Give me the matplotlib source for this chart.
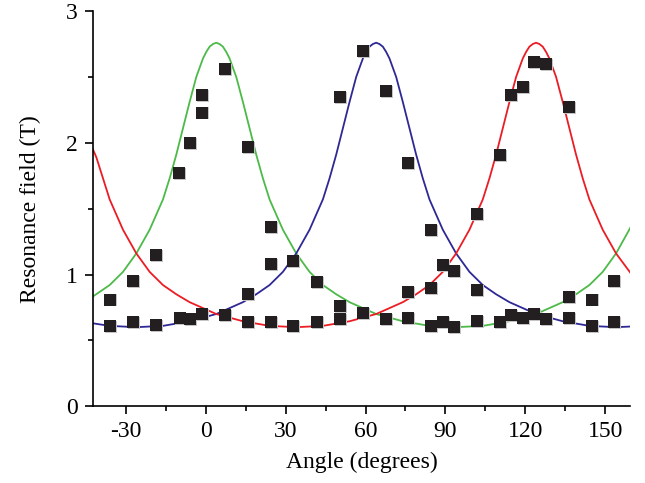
import numpy as np
import matplotlib.pyplot as plt
import matplotlib.transforms as mtransforms
from matplotlib.ticker import MultipleLocator

# Measured resonance fields (black squares)
angle = [-35.7, -35.7, -27.2, -27.2, -18.7, -18.7, -10.0, -9.6, -5.7, -5.9,
         -1.3, -1.3, -1.5, 7.2, 7.2, 16.0, 16.0, 16.0, 24.4, 24.4,
         24.4, 32.9, 32.9, 41.7, 41.7, 50.4, 50.4, 50.4, 58.9, 58.9,
         67.6, 67.6, 76.0, 76.1, 76.1, 84.6, 84.6, 84.6, 89.0, 89.0,
         93.2, 93.2, 102.0, 102.0, 102.0, 110.5, 110.5, 114.7, 114.7, 119.0,
         119.0, 123.4, 123.4, 127.7, 127.7, 136.3, 136.3, 136.3, 144.9, 144.9,
         153.3, 153.3]
field = [0.81, 0.61, 0.95, 0.64, 1.15, 0.62, 1.77, 0.67, 2.00, 0.66,
         2.36, 2.23, 0.70, 2.56, 0.69, 1.97, 0.85, 0.64, 1.36, 1.08,
         0.64, 1.10, 0.61, 0.94, 0.64, 2.35, 0.76, 0.66, 2.70, 0.71,
         2.39, 0.66, 1.85, 0.87, 0.67, 1.34, 0.90, 0.61, 1.07, 0.64,
         1.03, 0.60, 1.46, 0.88, 0.65, 1.91, 0.64, 2.36, 0.69, 2.42,
         0.67, 2.61, 0.70, 2.60, 0.66, 2.27, 0.83, 0.67, 0.81, 0.61,
         0.95, 0.64]

# Fitted curves
green_x = [-42.5, -36, -31, -26, -21, -16, -13.5, -11, -8.5, -6, -3.5, -1, 0.25, 1.5, 2.75, 4,
           5.25, 6.5, 7.75, 9, 11.5, 14, 16.5, 19, 21.5, 24, 29, 34, 39, 44, 49, 54, 59, 64, 74,
           84, 94, 104, 114, 124, 129, 134, 139, 144, 149, 154, 159.5]
green_y = [0.83, 0.92, 1.02, 1.16, 1.34, 1.57, 1.73, 1.91, 2.11, 2.31, 2.50, 2.64, 2.69, 2.73, 2.75, 2.76,
           2.75, 2.73, 2.69, 2.64, 2.50, 2.31, 2.11, 1.91, 1.73, 1.57, 1.34, 1.16, 1.02, 0.92, 0.85, 0.79, 0.745, 0.70, 0.645,
           0.61, 0.60, 0.61, 0.645, 0.70, 0.745, 0.79, 0.85, 0.92, 1.02, 1.16, 1.36]

blue_x = [-42.5, -36, -26, -16, -6, 4, 9, 14, 19, 24, 29, 34, 39, 44, 46.5, 49, 51.5,
          54, 56.5, 59, 60.25, 61.5, 62.75, 64, 65.25, 66.5, 67.75, 69, 71.5, 74, 76.5, 79, 81.5, 84, 89,
          94, 99, 104, 109, 114, 119, 124, 134, 144, 154, 159.5]
blue_y = [0.63, 0.61, 0.60, 0.61, 0.645, 0.70, 0.745, 0.79, 0.85, 0.92, 1.02, 1.16, 1.34, 1.57, 1.73, 1.91, 2.11,
          2.31, 2.50, 2.64, 2.69, 2.73, 2.75, 2.76, 2.75, 2.73, 2.69, 2.64, 2.50, 2.31, 2.11, 1.91, 1.73, 1.57, 1.34,
          1.16, 1.02, 0.92, 0.85, 0.79, 0.745, 0.70, 0.645, 0.61, 0.60, 0.605]

red_x = [-42.5, -41, -38.5, -36, -31, -26, -21, -16, -11, -6, -1, 4, 14, 24, 34, 44, 54,
         64, 69, 74, 79, 84, 89, 94, 99, 104, 106.5, 109, 111.5, 114, 116.5, 119, 120.25, 121.5, 122.75,
         124, 125.25, 126.5, 127.75, 129, 131.5, 134, 136.5, 139, 141.5, 144, 149, 154, 159.5]
red_y = [1.96, 1.89, 1.73, 1.57, 1.34, 1.16, 1.02, 0.92, 0.85, 0.79, 0.745, 0.70, 0.645, 0.61, 0.60, 0.61, 0.645,
         0.70, 0.745, 0.79, 0.85, 0.92, 1.02, 1.16, 1.34, 1.57, 1.73, 1.91, 2.11, 2.31, 2.50, 2.64, 2.69, 2.73, 2.75,
         2.76, 2.75, 2.73, 2.69, 2.64, 2.50, 2.31, 2.11, 1.91, 1.73, 1.57, 1.34, 1.16, 1.01]

plt.rcParams['font.family'] = ['Liberation Serif', 'DejaVu Serif']
plt.rcParams['axes.unicode_minus'] = False

fig = plt.figure(figsize=(6.45, 4.83), dpi=100)
ax = fig.add_axes([0.144, 0.159, 0.833, 0.818])

ax.plot(green_x, green_y, color='#4cba48', linewidth=1.3, zorder=2)
ax.plot(blue_x, blue_y, color='#2e2895', linewidth=1.3, zorder=2)
ax.plot(red_x, red_y, color='#ec1c24', linewidth=1.3, zorder=2)

# squares with a faint grey shadow
shadow = mtransforms.offset_copy(ax.transData, fig=fig, x=0.7, y=-0.7, units='points')
ax.plot(angle, field, 's', markersize=8.6, color='#c4c4c4', markeredgewidth=0,
        transform=shadow, zorder=3)
ax.plot(angle, field, 's', markersize=8.6, color='#231f20', markeredgewidth=0, zorder=4)

ax.set_xlim(-42.3, 159.3)
ax.set_ylim(0, 3)
ax.spines['top'].set_visible(False)
ax.spines['right'].set_visible(False)
ax.spines['left'].set_linewidth(1.2)
ax.spines['bottom'].set_linewidth(1.2)

ax.xaxis.set_major_locator(MultipleLocator(30))
ax.xaxis.set_minor_locator(MultipleLocator(15))
ax.yaxis.set_major_locator(MultipleLocator(1))
ax.yaxis.set_minor_locator(MultipleLocator(0.5))
ax.tick_params(which='major', direction='out', length=6, width=1.2, labelsize=17, pad=5)
ax.tick_params(which='minor', direction='out', length=3.5, width=1.2)

ax.set_xlabel('Angle (degrees)', fontsize=17, labelpad=7)
ax.set_ylabel('Resonance field (T)', fontsize=17, labelpad=18)

fig.savefig('out.png', dpi=100)
